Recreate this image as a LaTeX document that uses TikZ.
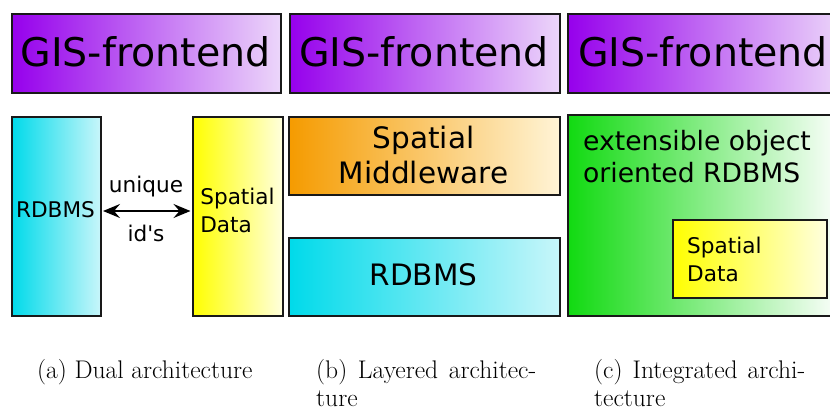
\documentclass[tikz,border=0pt]{standalone}
\usepackage{fontspec}
\newfontfamily\dv{DejaVu Sans}
\usetikzlibrary{arrows.meta}
\definecolor{purL}{RGB}{150,0,236}
\definecolor{purR}{RGB}{236,214,250}
\definecolor{cyaL}{RGB}{0,218,234}
\definecolor{cyaR}{RGB}{200,246,250}
\definecolor{yelL}{RGB}{255,255,0}
\definecolor{yelR}{RGB}{255,255,222}
\definecolor{oraL}{RGB}{245,155,0}
\definecolor{oraR}{RGB}{255,244,214}
\definecolor{grnL}{RGB}{17,218,17}
\definecolor{grnR}{RGB}{255,255,255}
\definecolor{edge}{RGB}{25,25,25}
\tikzset{
  box/.style={draw=edge, line width=1.5pt, anchor=north west, inner sep=0pt, shading=axis, shading angle=90},
  purbox/.style={box, left color=purL, right color=purR},
  cyabox/.style={box, left color=cyaL, right color=cyaR},
  yelbox/.style={box, left color=yelL, right color=yelR},
  orabox/.style={box, left color=oraL, right color=oraR},
  grnbox/.style={box, left color=grnL, right color=grnR},
  big/.style={font=\dv\fontsize{39.5}{47}\selectfont, inner sep=0pt},
  mid/.style={font=\dv\fontsize{29.5}{35}\selectfont, inner sep=0pt, align=center},
  cmid/.style={font=\dv\fontsize{26.6}{32}\selectfont, inner sep=0pt, align=left},
  small/.style={font=\dv\fontsize{21.6}{28}\selectfont, inner sep=0pt, align=center},
  smallL/.style={font=\dv\fontsize{21.6}{28}\selectfont, inner sep=0pt, align=left},
  captext/.style={font=\fontsize{25.5}{28}\selectfont, inner sep=0pt, align=left, anchor=north west},
  link/.style={line width=1.6pt, {Stealth[length=17pt,width=14pt,inset=6pt]}-{Stealth[length=17pt,width=14pt,inset=6pt]}, shorten <=1.5pt, shorten >=1.5pt}
}
\begin{document}
\begin{tikzpicture}[x=1pt,y=-1pt]
\useasboundingbox (0,0) rectangle (830,408);
\clip (0,0) rectangle (830,408);
% frontends
\node[purbox, minimum width=269pt, minimum height=79pt] (fa) at (11,13) {};
\node[big] (fat) at (145.5,52) {GIS-frontend};
\node[purbox, minimum width=270pt, minimum height=79pt] (fb) at (289,13) {};
\node[big] (fbt) at (424,52) {GIS-frontend};
\node[purbox, minimum width=275pt, minimum height=79pt] (fc) at (567,13) {};
\node[big] (fct) at (703,52) {GIS-frontend};
% panel a
\node[cyabox, minimum width=89pt, minimum height=199pt] (ra) at (11,116) {};
\node[small] (rat) at (55.5,210) {RDBMS};
\node[yelbox, minimum width=90pt, minimum height=199pt] (sa) at (192,116) {};
\node[smallL] (sat) at (237.5,210) {Spatial\\Data};
\coordinate (al) at (ra.east |- 0,211);
\coordinate (ar) at (sa.west |- 0,211);
\draw[link] (al) -- (ar);
\node[small] (ua) at (146,187) {unique};
\node[small] (ia) at (146,233) {id's};
% panel b
\node[orabox, minimum width=271pt, minimum height=78pt] (mb) at (288,116) {};
\node[mid] (mbt) at (423.5,155) {Spatial\\Middleware};
\node[cyabox, minimum width=271pt, minimum height=78pt] (rb) at (288,237) {};
\node[mid] (rbt) at (423.5,275) {RDBMS};
% panel c
\node[grnbox, minimum width=275pt, minimum height=201pt] (gc) at (567,114) {};
\node[cmid, anchor=west] (gct) at (583,157) {extensible object\\oriented RDBMS};
\node[yelbox, minimum width=154pt, minimum height=78pt] (sc) at (672,219) {};
\node[smallL, anchor=west] (sct) at (687,259) {Spatial\\Data};
% captions
\node[captext] (ca) at (37,359) {(a) Dual architecture};
\node[captext] (cb) at (316,359) {\hbox to 220pt{(b)\hfill Layered\hfill architec-}\\ture};
\node[captext] (cc) at (594,359) {\hbox to 211pt{(c)\hfill Integrated\hfill archi-}\\tecture};
\end{tikzpicture}
\end{document}
